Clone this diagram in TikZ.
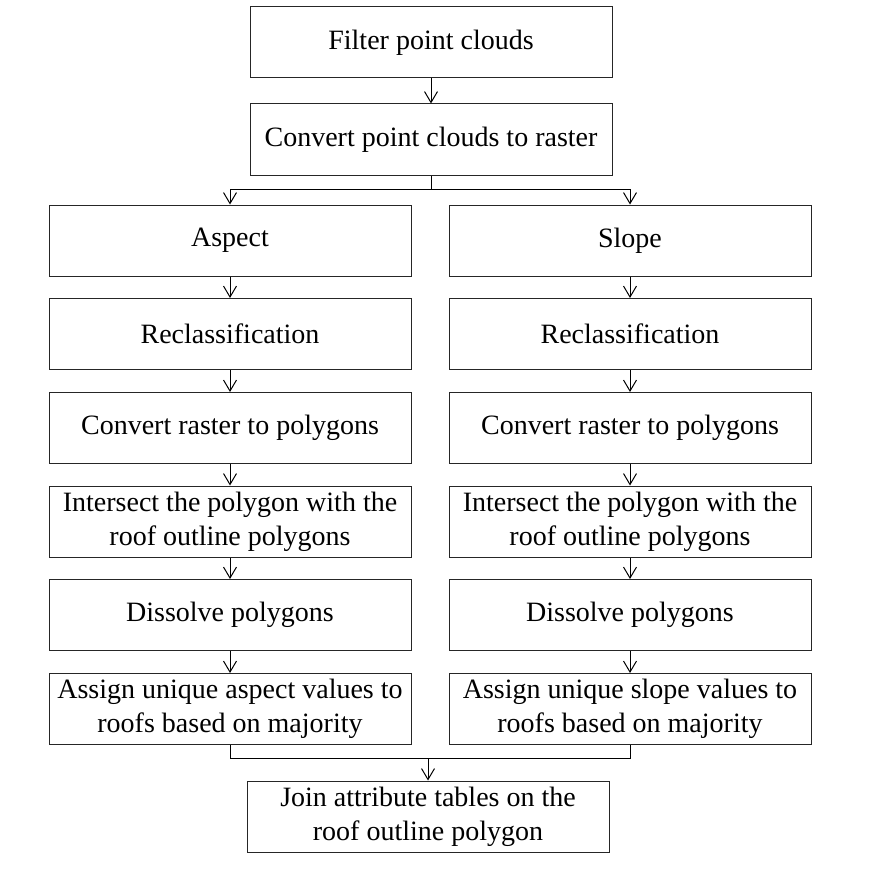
\documentclass[tikz,border=0pt]{standalone}
\usepackage{fontspec}
\setmainfont{Liberation Serif}
\usetikzlibrary{arrows.meta}
\begin{document}
\begin{tikzpicture}[x=1pt,y=-1pt,
  box/.style={draw=black!85, line width=1pt, minimum width=362pt, minimum height=71pt, inner sep=0pt, align=center, font=\fontsize{28}{34}\selectfont},
  conn/.style={draw=black, line width=1pt},
  arr/.style={conn, -{Straight Barb[length=11pt,width=13pt,line width=1pt]}}]
\useasboundingbox (0,0) rectangle (877,872);
\node[box] (f) at (431,42.5) {Filter point clouds};
\node[box] (c) at (431,139.5) {Convert point clouds to raster};
\node[box] (a1) at (230,240.5) {Aspect};
\node[box] (a2) at (230,334) {Reclassification};
\node[box] (a3) at (230,428) {Convert raster to polygons};
\node[box] (a4) at (230,521.5) {Intersect the polygon with the\\roof outline polygons};
\node[box] (a5) at (230,615) {Dissolve polygons};
\node[box] (a6) at (230,709) {Assign unique aspect values to\\roofs based on majority};
\node[box] (s1) at (630,240.5) {Slope};
\node[box] (s2) at (630,334) {Reclassification};
\node[box] (s3) at (630,428) {Convert raster to polygons};
\node[box] (s4) at (630,521.5) {Intersect the polygon with the\\roof outline polygons};
\node[box] (s5) at (630,615) {Dissolve polygons};
\node[box] (s6) at (630,709) {Assign unique slope values to\\roofs based on majority};
\node[box] (j) at (428,816.5) {Join attribute tables on the\\roof outline polygon};
\coordinate (split) at (431,189);
\coordinate (merge) at (428,758);
\draw[arr] (f) -- (c);
\draw[conn] (c.south) -- (split);
\draw[arr] (split) -| (a1.north);
\draw[arr] (split) -| (s1.north);
\draw[arr] (a1) -- (a2);
\draw[arr] (a2) -- (a3);
\draw[arr] (a3) -- (a4);
\draw[arr] (a4) -- (a5);
\draw[arr] (a5) -- (a6);
\draw[arr] (s1) -- (s2);
\draw[arr] (s2) -- (s3);
\draw[arr] (s3) -- (s4);
\draw[arr] (s4) -- (s5);
\draw[arr] (s5) -- (s6);
\draw[conn] (a6.south) |- (merge);
\draw[conn] (s6.south) |- (merge);
\draw[arr] (merge) -- (j.north -| merge);
\end{tikzpicture}
\end{document}
